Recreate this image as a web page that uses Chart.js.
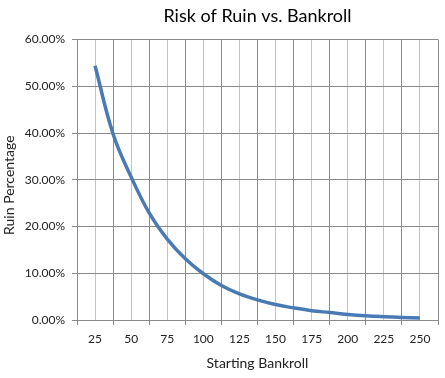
<!DOCTYPE html>
<html>
<head>
<meta charset="utf-8">
<script src="https://cdn.jsdelivr.net/npm/chart.js@4"></script>
<style>
html,body{margin:0;padding:0;background:#fff;}
#wrap{width:445px;height:378px;}
</style>
</head>
<body>
<div id="wrap"><canvas id="c" width="445" height="378"></canvas></div>
<script>
// Data
const bankroll = [25, 37.5, 50, 62.5, 75, 87.5, 100, 112.5, 125, 137.5, 150, 162.5, 175, 187.5, 200, 212.5, 225, 237.5, 250];
const ruinPct  = [54.4, 39.8, 30.6, 22.9, 17.3, 13.1, 9.9, 7.4, 5.6, 4.3, 3.3, 2.6, 2.0, 1.6, 1.2, 0.9, 0.7, 0.55, 0.45];
const xLabels  = [25, 50, 75, 100, 125, 150, 175, 200, 225, 250];
const yTicks   = [0, 10, 20, 30, 40, 50, 60];

const FONT = 'Lato';
const points = bankroll.map((x, i) => ({x: x, y: ruinPct[i]}));

new Chart(document.getElementById('c'), {
  type: 'line',
  data: {
    datasets: [{
      data: points,
      borderColor: '#4a7ab4',
      borderWidth: 3.5,
      pointRadius: 0,
      fill: false,
      tension: 0.4
    }]
  },
  options: {
    responsive: false,
    animation: false,
    layout: {padding: {top: 0, left: 0, right: 7, bottom: 0}},
    plugins: {
      legend: {display: false},
      tooltip: {enabled: false},
      title: {
        display: true,
        fullSize: false,
        text: 'Risk of Ruin vs. Bankroll',
        color: '#000',
        font: {family: FONT, size: 18, weight: 'normal'},
        padding: {top: 5, bottom: 13}
      }
    },
    scales: {
      x: {
        type: 'linear',
        min: 12.5,
        max: 262.5,
        afterFit: s => { s.height = 58; },
        afterBuildTicks: s => {
          const t = [];
          for (let v = 12.5; v <= 262.5 + 1e-9; v += 12.5) t.push({value: v});
          s.ticks = t;
        },
        ticks: {
          autoSkip: false,
          maxRotation: 0,
          padding: 7,
          color: '#222',
          font: {family: FONT, size: 12},
          callback: v => xLabels.includes(v) ? String(v) : ''
        },
        grid: {
          color: ctx => (ctx.tick && xLabels.includes(ctx.tick.value)) ? '#c4c4c4' : '#8a8a8a',
          tickColor: ctx => (ctx.tick && xLabels.includes(ctx.tick.value)) ? 'rgba(0,0,0,0)' : '#8a8a8a',
          tickLength: 5,
          lineWidth: 1
        },
        border: {color: '#8a8a8a', width: 1},
        title: {
          display: true,
          text: 'Starting Bankroll',
          color: '#222',
          font: {family: FONT, size: 14},
          padding: {top: 0, bottom: 6}
        }
      },
      y: {
        min: 0,
        max: 60,
        afterFit: s => { s.width = 77; },
        afterBuildTicks: s => { s.ticks = yTicks.map(v => ({value: v})); },
        ticks: {
          padding: 7,
          color: '#222',
          font: {family: FONT, size: 12},
          callback: v => v.toFixed(2) + '%'
        },
        grid: {color: '#8a8a8a', tickColor: '#8a8a8a', tickLength: 5, lineWidth: 1},
        border: {color: '#8a8a8a', width: 1},
        title: {
          display: true,
          text: 'Ruin Percentage   ',
          color: '#222',
          font: {family: FONT, size: 14},
          padding: {top: 1, bottom: 0}
        }
      }
    }
  }
});
</script>
</body>
</html>
